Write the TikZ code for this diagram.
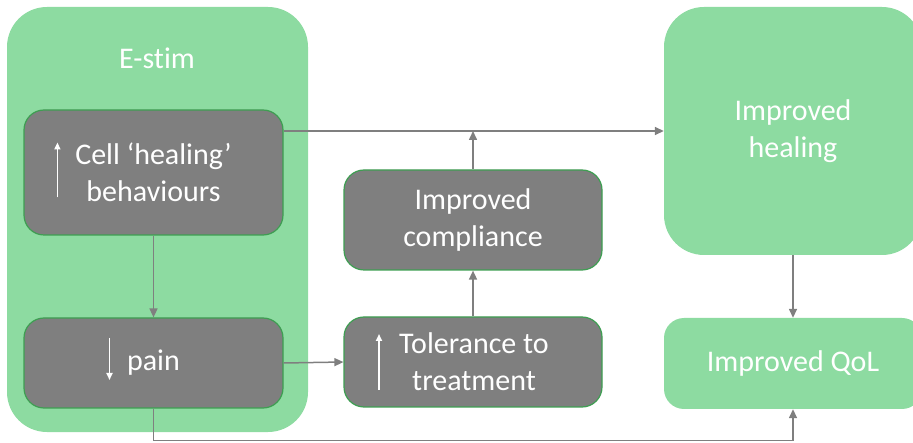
\documentclass[tikz,border=0pt]{standalone}
\usepackage{fontspec}
\setmainfont[Ligatures=NoCommon]{Carlito}
\usetikzlibrary{arrows.meta}
\definecolor{stimgreen}{RGB}{141,219,161}
\definecolor{edgegreen}{RGB}{62,158,82}
\definecolor{boxgray}{RGB}{127,127,127}
\tikzset{
  panel/.style={fill=stimgreen, draw=none, rounded corners=40pt, text=white},
  flatpanel/.style={fill=stimgreen, draw=none, rounded corners=20pt, text=white},
  effect/.style={fill=boxgray, draw=edgegreen, line width=1.2pt, rounded corners=20pt, text=white},
  link/.style={draw=boxgray, line width=1.5pt, -{Triangle[length=9pt,width=8pt]}},
  glyph/.style={draw=white, line width=1.6pt, -{Triangle[length=7pt,width=6pt]}}
}
\begin{document}
\begin{tikzpicture}[x=1pt,y=-1pt, font=\fontsize{30}{37}\selectfont,
    every node/.style={inner sep=0pt, align=center}]
  \useasboundingbox (0,0) rectangle (913,443);
  % outer panels
  \node[panel, minimum width=301pt, minimum height=425pt] (estim) at (157.5,219.5) {};
  \node[text=white] (estimlabel) at (157,58) {E-stim};
  \node[panel, minimum width=258pt, minimum height=248pt] (heal) at (793,131) {Improved\\healing};
  \node[flatpanel, minimum width=258pt, minimum height=91pt] (qol) at (793,363.5) {Improved QoL};
  % grey effect boxes
  \node[effect, minimum width=259pt, minimum height=125pt] (cell) at (153.5,172.5) {Cell `healing'\\behaviours};
  \node[effect, minimum width=259pt, minimum height=90pt] (pain) at (153.5,363) {pain};
  \node[effect, minimum width=258pt, minimum height=100pt] (compl) at (473,220) {Improved\\compliance};
  \node[effect, minimum width=258pt, minimum height=90pt] (toler) at (473,362) {\hspace*{2pt}Tolerance to\\\hspace*{2pt}treatment};
  % up and down marks
  \draw[glyph] ([xshift=34pt,yshift=-25pt]cell.west) -- ++(0,-55);
  \draw[glyph] ([xshift=-44pt,yshift=25pt]pain.center) -- ++(0,42);
  \draw[glyph] ([xshift=-94pt,yshift=-28pt]toler.center) -- ++(0,-56);
  % connectors
  \draw[link] (cell.north east |- heal.west) -- (heal.west);
  \draw[link] (compl.north) -- (compl.north |- heal.west);
  \draw[link] (toler.north) -- (compl.south);
  \draw[link] (cell.south) -- (pain.north);
  \draw[link] (pain.east) -- (toler.west);
  \draw[link] (heal.south) -- (qol.north);
  \draw[link] (pain.south) -- ++(0,32) -| (qol.south);
\end{tikzpicture}
\end{document}
